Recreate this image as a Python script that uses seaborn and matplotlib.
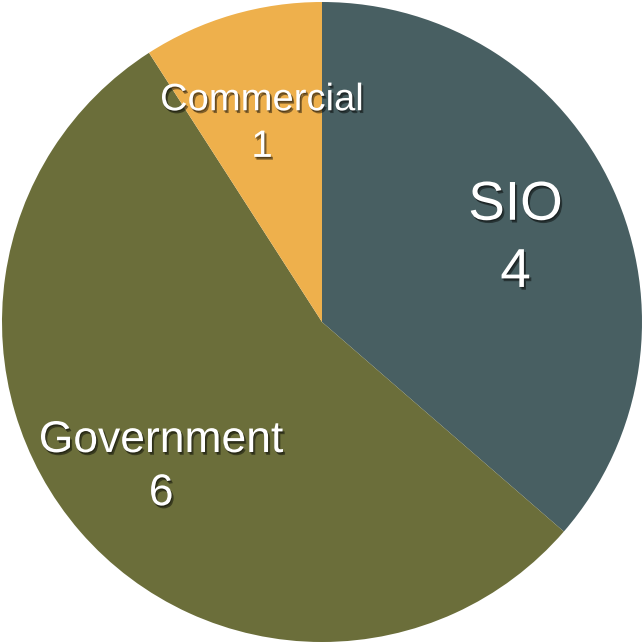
import matplotlib
matplotlib.use('Agg')
import matplotlib.pyplot as plt
import matplotlib.patheffects as pe
import numpy as np
import seaborn as sns

# Data
sectors = ['SIO', 'Government', 'Commercial']
counts = [4, 6, 1]
colours = ['#485f62', '#6b6e3a', '#eeb04c']
label_sizes = [39.5, 32, 27.5]

sns.set_theme(style='white')
plt.rcParams['font.family'] = ['Liberation Sans', 'DejaVu Sans']
palette = sns.color_palette(colours)

fig = plt.figure(figsize=(6.43, 6.42), dpi=100)
ax = fig.add_axes([0, 0, 1, 1])

wedges, _ = ax.pie(counts, colors=palette, startangle=90, counterclock=False,
                   radius=1.0, wedgeprops=dict(linewidth=0))

shadow = [pe.SimplePatchShadow(offset=(1.5, -2), shadow_rgbFace='black', alpha=0.45),
          pe.SimplePatchShadow(offset=(0.5, -1), shadow_rgbFace='black', alpha=0.35),
          pe.Normal()]

# Labels sit on each wedge's mid-angle (nudged down a little)
for w, name, n, fs in zip(wedges, sectors, counts, label_sizes):
    mid = np.deg2rad((w.theta1 + w.theta2) / 2)
    r = 0.665
    ax.text(r * np.cos(mid), r * np.sin(mid) - 0.018, f'{name}\n{n}', ha='center', va='center',
            color='white', fontsize=fs, linespacing=1.38, path_effects=shadow)

# pie centre at (322, 322) px, radius ~320 px
ax.set_xlim(-322 / 320, (643 - 322) / 320)
ax.set_ylim(-(642 - 322) / 320, 322 / 320)
ax.set_aspect('equal')
ax.axis('off')

fig.savefig('out.png', dpi=100, facecolor='white')
